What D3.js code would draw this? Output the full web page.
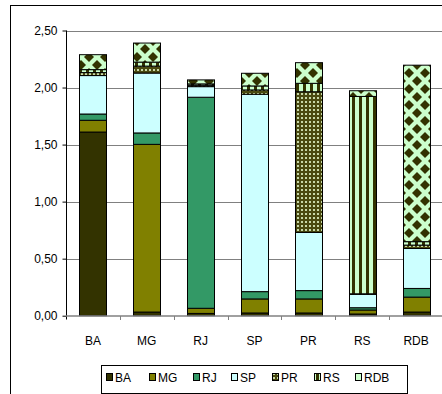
<!DOCTYPE html>
<html><head><meta charset="utf-8">
<script src="https://cdn.jsdelivr.net/npm/d3@7/dist/d3.min.js"></script>
<style>body{margin:0;background:#fff;}svg{display:block;font-family:"Liberation Sans",Arial,sans-serif;}</style>
</head><body>
<svg id="c" width="442" height="394"></svg>
<script>
const categories = ["BA","MG","RJ","SP","PR","RS","RDB"];
const seriesNames = ["BA","MG","RJ","SP","PR","RS","RDB"];
const vBA  = [1.610, 0.032, 0.020, 0.024, 0.024, 0.015, 0.032];
const vMG  = [0.103, 1.470, 0.045, 0.123, 0.123, 0.035, 0.131];
const vRJ  = [0.055, 0.100, 1.850, 0.064, 0.073, 0.020, 0.076];
const vSP  = [0.337, 0.525, 0.093, 1.730, 0.510, 0.117, 0.350];
const vPR  = [0.026, 0.061, 0.012, 0.038, 1.233, 0.005, 0.030];
const vRS  = [0.026, 0.035, 0.012, 0.035, 0.074, 1.730, 0.030];
const vRDB = [0.131, 0.167, 0.035, 0.111, 0.181, 0.050, 1.547];
const yTicks = [0, 0.5, 1.0, 1.5, 2.0, 2.5];

const seriesVals = [vBA, vMG, vRJ, vSP, vPR, vRS, vRDB];
const rows = categories.map((c,i)=>{const r={cat:c}; seriesNames.forEach((s,j)=>r[s]=seriesVals[j][i]); return r;});
const stacked = d3.stack().keys(seriesNames)(rows);

const svg = d3.select("#c");
const defs = svg.append("defs");
const dark = "#333300", light = "#CCFFCC";
defs.append("filter").attr("id","soft").attr("x","-20%").attr("y","-20%").attr("width","140%").attr("height","140%")
  .append("feGaussianBlur").attr("stdDeviation",0.7);
// PR: dotted grid
const pPR = defs.append("pattern").attr("id","pPR").attr("patternUnits","userSpaceOnUse").attr("width",4).attr("height",4);
pPR.append("rect").attr("width",4).attr("height",4).attr("fill","#4a4a10");
pPR.append("rect").attr("x",1).attr("y",1).attr("width",2).attr("height",2).attr("fill","#c8d8a8");
// RS: vertical stripes
const pRS = defs.append("pattern").attr("id","pRS").attr("patternUnits","userSpaceOnUse").attr("width",7).attr("height",7).attr("x",2);
pRS.append("rect").attr("width",7).attr("height",7).attr("fill",light);
pRS.append("rect").attr("x",0).attr("width",3).attr("height",7).attr("fill",dark);
// RDB: diamonds
const pRDB = defs.append("pattern").attr("id","pRDB").attr("patternUnits","userSpaceOnUse").attr("width",16).attr("height",16).attr("x",1).attr("y",1);
pRDB.append("rect").attr("width",16).attr("height",16).attr("fill",light);
const dia = (cx,cy,r)=>`M${cx},${cy-r}L${cx+r},${cy}L${cx},${cy+r}L${cx-r},${cy}Z`;
const dg = pRDB.append("g").attr("filter","url(#soft)");
[[8,8],[0,0],[16,0],[0,16],[16,16]].forEach(([x,y])=>dg.append("path").attr("d",dia(x,y,5)).attr("fill",dark));

const fills = {BA:dark, MG:"#808000", RJ:"#339966", SP:"#CCFFFF", PR:"url(#pPR)", RS:"url(#pRS)", RDB:"url(#pRDB)"};
const legendFills = {BA:dark, MG:"#808000", RJ:"#339966", SP:"#CCFFFF", PR:"url(#pPR)", RS:"url(#pRS)", RDB:light};

const x = d3.scaleBand().domain(categories).range([66, 443]).paddingInner(0.5).paddingOuter(0.25);
const y = d3.scaleLinear().domain([0, 2.5]).range([315.7, 30.5]);

// outer frame
svg.append("rect").attr("x",10.5).attr("y",5.5).attr("width",440).attr("height",400).attr("fill","none").attr("stroke","#000").attr("stroke-width",1);

// gridlines
svg.append("g").selectAll("line").data(yTicks.filter(t=>t>0)).join("line")
  .attr("x1",66).attr("x2",443).attr("y1",d=>Math.round(y(d))+0.5).attr("y2",d=>Math.round(y(d))+0.5)
  .attr("stroke","#808080").attr("stroke-width",1);

// bars
svg.append("g").selectAll("g").data(stacked).join("g")
  .attr("fill",d=>fills[d.key])
  .selectAll("rect").data(d=>d).join("rect")
  .attr("x",d=>Math.round(x(d.data.cat))+0.5)
  .attr("width",Math.round(x.bandwidth()))
  .attr("y",d=>y(d[1]))
  .attr("height",d=>Math.max(0,y(d[0])-y(d[1])))
  .attr("stroke","#000").attr("stroke-width",1);

// y axis
const yAxis = svg.append("g").attr("transform","translate(66.5,0)")
  .call(d3.axisLeft(y).tickValues(yTicks).tickSize(4).tickPadding(5).tickFormat(d=>d3.format(".2f")(d).replace(".",",")));
yAxis.select(".domain").attr("d","M0,30.5V319.5");
yAxis.selectAll("text").attr("font-size","12px").attr("fill","#000").attr("font-family","Liberation Sans, Arial, sans-serif");

// x axis
const bounds = categories.map(c=>x(c)-x.step()*0.25).concat([443]);
svg.append("line").attr("x1",66).attr("x2",443).attr("y1",316).attr("y2",316).attr("stroke","#808080").attr("stroke-width",1.5);
svg.append("g").selectAll("line").data(bounds.slice(1,7)).join("line")
  .attr("x1",d=>Math.round(d)+0.5).attr("x2",d=>Math.round(d)+0.5).attr("y1",316).attr("y2",320)
  .attr("stroke","#808080").attr("stroke-width",1);
svg.append("g").selectAll("text").data(categories).join("text")
  .attr("x",d=>x(d)+x.bandwidth()/2).attr("y",345).attr("text-anchor","middle")
  .attr("font-size","12px").attr("fill","#000").text(d=>d);

// legend
svg.append("rect").attr("x",101.5).attr("y",365.5).attr("width",306).attr("height",28).attr("fill","#fff").attr("stroke","#000");
const legX = [106, 149, 193, 231, 272, 314, 355];
const lg = svg.append("g").selectAll("g").data(seriesNames).join("g")
  .attr("transform",(d,i)=>`translate(${legX[i]},0)`);
lg.append("rect").attr("x",0.5).attr("y",373.5).attr("width",6).attr("height",7).attr("fill",d=>legendFills[d]).attr("stroke","#000");
lg.append("text").attr("x",9).attr("y",382).attr("font-size","12px").attr("fill","#000").text(d=>d);
</script>
</body></html>
